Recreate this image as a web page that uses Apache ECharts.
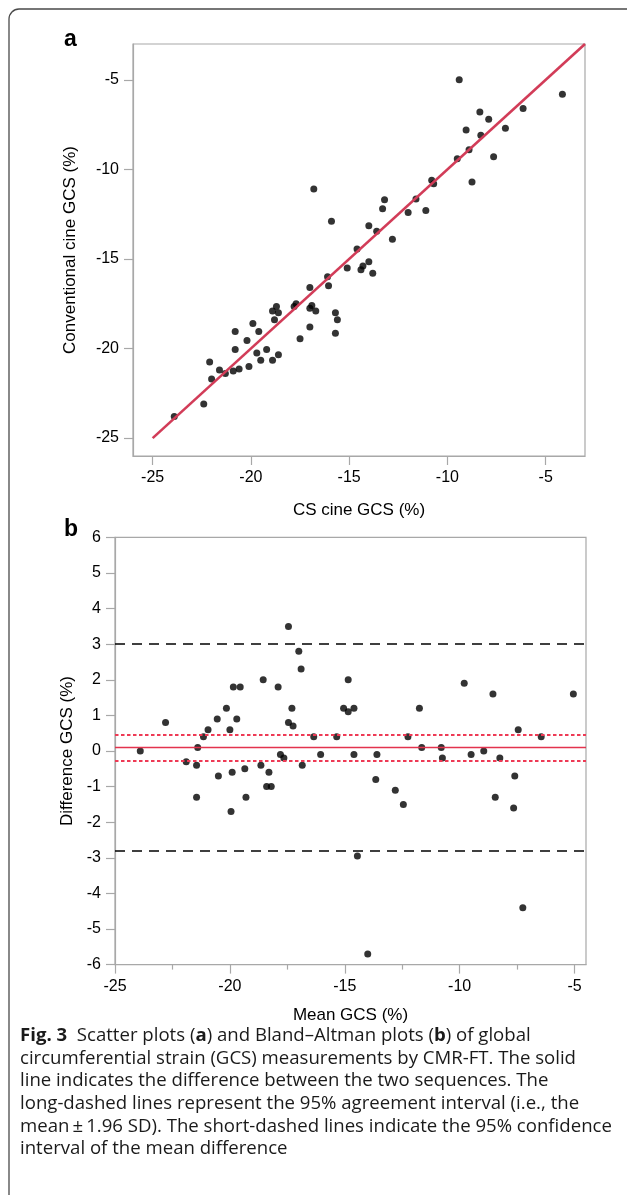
<!DOCTYPE html>
<html>
<head>
<meta charset="utf-8">
<script src="https://cdn.jsdelivr.net/npm/echarts@6/dist/echarts.min.js"></script>
<style>
html,body{margin:0;padding:0;background:#fff;}
#chart{width:627px;height:1195px;}
</style>
</head>
<body>
<div id="chart"></div>
<script>
// ---- Panel a: scatter (CS cine GCS vs conventional cine GCS) ----
const csCineGCS = [
  -23.9,-22.4,-22.1,-22.0,-21.6,-21.3,-20.9,-20.6,-20.8,-20.8,-20.1,-20.2,-19.9,-19.7,-19.6,-19.5,-19.2,-18.9,-18.6,-18.9,-18.7,-18.6,-18.8,-17.8,-17.7,-17.0,-17.5,-17.0,-17.0,-16.9,-16.7,-16.1,-16.05,
  -16.8,-15.9,-15.7,-15.6,-15.7,-15.1,-14.6,-14.4,-14.3,-14.0,-13.8,-14.0,-13.6,-13.3,-13.2,-12.8,-12.0,-11.6,-11.1,-10.8,-10.7,
  -9.5,-9.4,-9.05,-8.9,-8.75,-8.35,-8.3,-7.9,-7.65,-7.05,-6.15,-4.15
];
const conventionalCineGCS = [
  -23.8,-23.1,-20.75,-21.7,-21.2,-21.4,-21.25,-21.15,-20.05,-19.05,-21.0,-19.55,-18.6,-20.25,-19.05,-20.65,-20.05,-20.65,-20.35,-17.9,-17.65,-18.0,-18.4,-17.65,-17.5,-16.6,-19.45,-18.8,-17.75,-17.6,-17.9,-16.0,-16.5,
  -11.1,-12.9,-18.0,-18.4,-19.15,-15.5,-14.45,-15.6,-15.4,-15.15,-15.8,-13.15,-13.45,-12.2,-11.7,-13.9,-12.4,-11.65,-12.3,-10.6,-10.8,
  -9.4,-5.0,-7.8,-8.9,-10.7,-6.8,-8.1,-7.2,-9.3,-7.7,-6.6,-5.8
];
const identityLineX = [-25, -3];
const identityLineY = [-25, -3];

// ---- Panel b: Bland–Altman ----
const meanGCS = [
  -23.9,-22.8,-21.9,-21.45,-21.45,-21.4,-21.15,-20.95,-20.55,-20.5,-20.15,-20.0,-19.95,-19.9,-19.85,-19.7,-19.55,-19.35,-19.3,-18.65,-18.55,-18.3,-18.4,-18.2,-17.9,-17.8,
  -17.45,-17.0,-16.9,-17.3,-17.45,-17.25,-17.65,-16.85,-16.35,-16.05,-15.35,-15.05,-14.85,-14.85,-14.6,-14.6,-13.65,-13.6,-12.8,-12.45,-12.25,-11.75,-11.65,
  -14.45,-14.0,-7.25,
  -9.8,-8.55,-5.05,-10.8,-10.75,-9.5,-8.95,-8.25,-7.45,-6.45,-7.6,-8.45,-7.65
];
const differenceGCS = [
  0.0,0.8,-0.3,-1.3,-0.4,0.1,0.4,0.6,0.9,-0.7,1.2,0.6,-1.7,-0.6,1.8,0.9,1.8,-0.5,-1.3,-0.4,2.0,-0.6,-1.0,-1.0,1.8,-0.1,
  3.5,2.8,2.3,1.2,0.8,0.7,-0.2,-0.4,0.4,-0.1,0.4,1.2,1.1,2.0,1.2,-0.1,-0.8,-0.1,-1.1,-1.5,0.4,1.2,0.1,
  -2.95,-5.7,-4.4,
  1.9,1.6,1.6,0.1,-0.2,-0.1,0.0,-0.2,0.6,0.4,-0.7,-1.3,-1.6
];
const meanDifference = 0.1;
const ciUpper = 0.47;
const ciLower = -0.27;
const loaUpper = 3.0;
const loaLower = -2.8;

// tick values
const ticksA = [-25, -20, -15, -10, -5];
const ticksBx = [-25, -20, -15, -10, -5];
const minorTicksBx = [-22.5, -17.5, -12.5, -7.5];

const FONT = 'Liberation Sans';
const AXIS_GRAY = '#a8a8a8';
const LABEL = { color: '#000', fontSize: 16, fontFamily: FONT };

function zip(a, b) { return a.map((v, i) => [v, b[i]]); }

function axisBase(extra) {
  return Object.assign({
    type: 'value',
    splitLine: { show: false },
    axisLine: { show: true, onZero: false, lineStyle: { color: AXIS_GRAY, width: 1.2 } },
    axisTick: { show: true, inside: false, length: 9, lineStyle: { color: AXIS_GRAY, width: 1.2 } },
    axisLabel: Object.assign({ margin: 14 }, LABEL),
    nameLocation: 'middle',
    nameTextStyle: { color: '#000', fontSize: 17, fontFamily: FONT }
  }, extra);
}

const chart = echarts.init(document.getElementById('chart'), null, { renderer: 'canvas' });

const captionLines = [
  '{b|Fig. 3}  Scatter plots ({b|a}) and Bland–Altman plots ({b|b}) of global',
  'circumferential strain (GCS) measurements by CMR-FT. The solid',
  'line indicates the difference between the two sequences. The',
  'long-dashed lines represent the 95% agreement interval (i.e., the',
  'mean\u2009±\u20091.96 SD). The short-dashed lines indicate the 95% confidence',
  'interval of the mean difference'
];

const CAP_SIZE = 18.6;
const graphics = [
  { type: 'rect', shape: { x: 9, y: 9, width: 800, height: 1400, r: 10 },
    style: { fill: 'none', stroke: '#4a4a4a', lineWidth: 1.3 }, silent: true, z: 0 },
  { type: 'text', x: 64, y: 40, style: { text: 'a', font: 'bold 23px ' + FONT, fill: '#000', verticalAlign: 'middle' } },
  { type: 'text', x: 64, y: 530, style: { text: 'b', font: 'bold 23px ' + FONT, fill: '#000', verticalAlign: 'middle' } }
];
captionLines.forEach((t, i) => {
  graphics.push({
    type: 'text', x: 20, y: 1036 + i * 22.6,
    style: {
      text: t, fontFamily: 'Open Sans', fontSize: CAP_SIZE, fill: '#1a1a1a', verticalAlign: 'middle',
      rich: { b: { fontFamily: 'Open Sans', fontSize: CAP_SIZE, fontWeight: 'bold', fill: '#1a1a1a' } }
    }
  });
});

const option = {
  animation: false,
  backgroundColor: '#fff',
  graphic: graphics,
  grid: [
    { left: 133, top: 44, width: 452, height: 412, show: true, borderColor: AXIS_GRAY, borderWidth: 1.2 },
    { left: 115, top: 537.4, width: 471, height: 427.2, show: true, borderColor: AXIS_GRAY, borderWidth: 1.2 }
  ],
  xAxis: [
    axisBase({ gridIndex: 0, position: 'bottom', min: -26, max: -3, name: 'CS cine GCS (%)', nameGap: 46,
      axisTick: { show: true, length: 9, customValues: ticksA, lineStyle: { color: AXIS_GRAY, width: 1.2 } },
      axisLabel: Object.assign({ margin: 14, customValues: ticksA }, LABEL) }),
    axisBase({ gridIndex: 1, position: 'bottom', min: -25, max: -4.5, name: 'Mean GCS (%)', nameGap: 42,
      axisTick: { show: true, length: 9, customValues: ticksBx, lineStyle: { color: AXIS_GRAY, width: 1.2 } },
      axisLabel: Object.assign({ margin: 14, customValues: ticksBx }, LABEL) }),
    // minor ticks on the Bland–Altman x axis
    { type: 'value', gridIndex: 1, position: 'bottom', offset: 0, min: -25, max: -4.5, splitLine: { show: false },
      axisLine: { show: false, onZero: false }, axisLabel: { show: false },
      axisTick: { show: true, length: 5, customValues: minorTicksBx, lineStyle: { color: AXIS_GRAY, width: 1.2 } } }
  ],
  yAxis: [
    axisBase({ gridIndex: 0, position: 'left', min: -26, max: -3, name: 'Conventional cine GCS (%)', nameGap: 54,
      axisTick: { show: true, length: 9, customValues: ticksA, lineStyle: { color: AXIS_GRAY, width: 1.2 } },
      axisLabel: Object.assign({ margin: 14, customValues: ticksA }, LABEL) }),
    axisBase({ gridIndex: 1, position: 'left', min: -6, max: 6, interval: 1, name: 'Difference GCS (%)', nameGap: 38 })
  ],
  series: [
    {
      type: 'scatter', xAxisIndex: 0, yAxisIndex: 0, z: 2,
      data: zip(csCineGCS, conventionalCineGCS),
      symbol: 'circle', symbolSize: 7, itemStyle: { color: '#000' }
    },
    {
      type: 'line', xAxisIndex: 0, yAxisIndex: 0, z: 3, silent: true,
      data: zip(identityLineX, identityLineY), symbol: 'none',
      lineStyle: { color: '#d23c58', width: 2.6 }
    },
    {
      type: 'scatter', xAxisIndex: 1, yAxisIndex: 1, z: 1, data: [],
      markLine: {
        silent: true, symbol: ['none', 'none'], label: { show: false }, animation: false,
        data: [
          { yAxis: meanDifference, lineStyle: { color: '#e3334e', width: 1.3, type: 'solid' } },
          { yAxis: ciUpper, lineStyle: { color: '#ee3a55', width: 1.8, type: [3.5, 2.5] } },
          { yAxis: ciLower, lineStyle: { color: '#ee3a55', width: 1.8, type: [3.5, 2.5] } },
          { yAxis: loaUpper, lineStyle: { color: '#000', width: 1.6, type: [10, 7] } },
          { yAxis: loaLower, lineStyle: { color: '#000', width: 1.6, type: [10, 7] } }
        ]
      }
    },
    {
      type: 'scatter', xAxisIndex: 1, yAxisIndex: 1, z: 4,
      data: zip(meanGCS, differenceGCS),
      symbol: 'circle', symbolSize: 7, itemStyle: { color: '#000' }
    }
  ]
};
chart.setOption(option);
</script>
</body>
</html>
